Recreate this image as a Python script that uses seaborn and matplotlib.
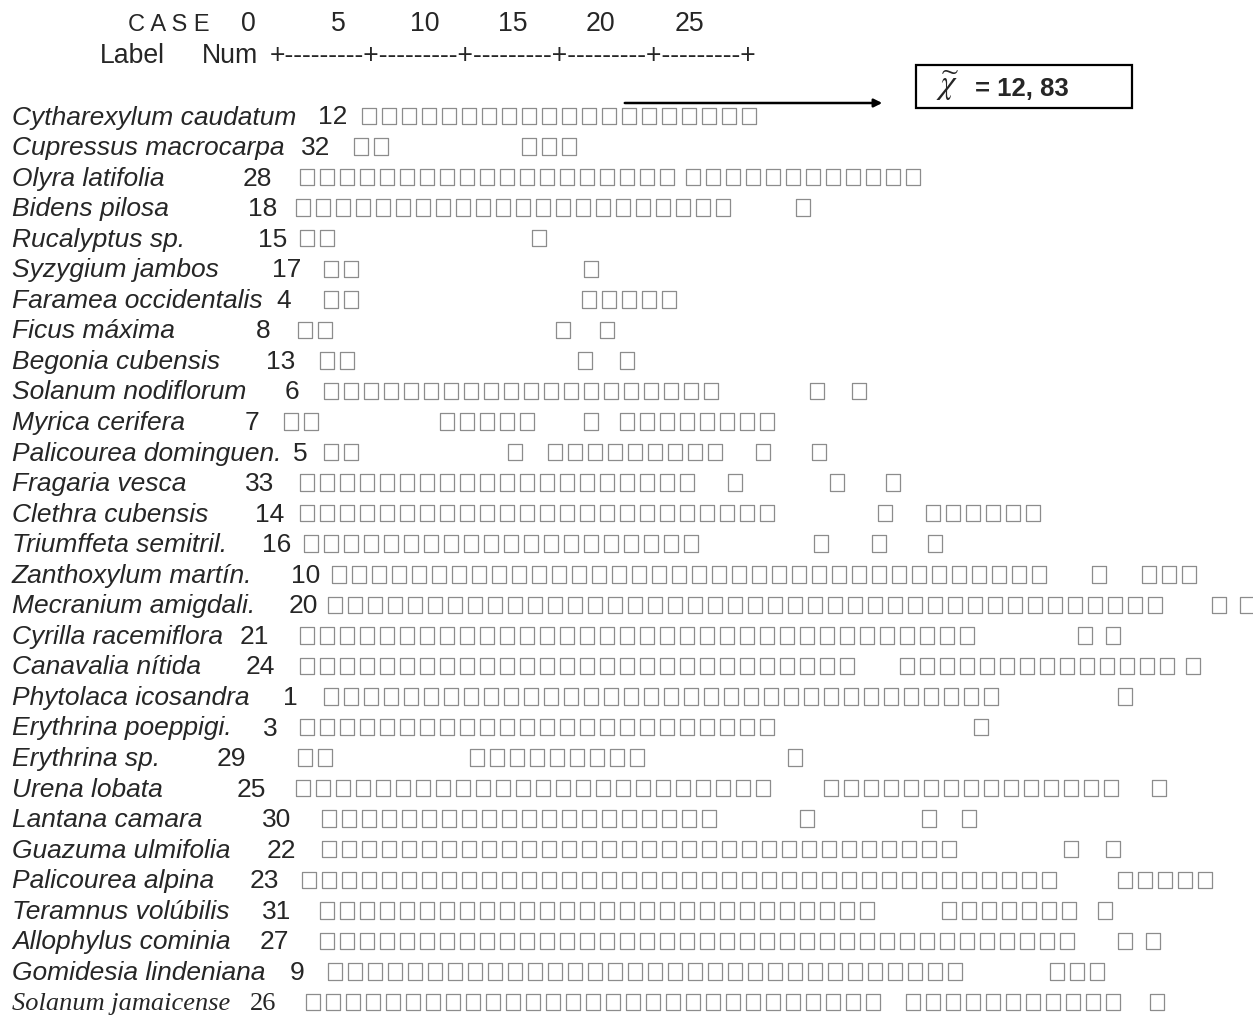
import pandas as pd
import seaborn as sns
import matplotlib.pyplot as plt
from matplotlib.patches import Rectangle

# Dendrogram table (SPSS text output, box glyphs are the branch characters)
species = [
    "Cytharexylum caudatum", "Cupressus macrocarpa", "Olyra latifolia", "Bidens pilosa",
    "Rucalyptus sp.", "Syzygium jambos", "Faramea occidentalis", "Ficus máxima",
    "Begonia cubensis", "Solanum nodiflorum", "Myrica cerifera", "Palicourea dominguen.",
    "Fragaria vesca", "Clethra cubensis", "Triumffeta semitril.", "Zanthoxylum martín.",
    "Mecranium amigdali.", "Cyrilla racemiflora", "Canavalia nítida", "Phytolaca icosandra",
    "Erythrina poeppigi.", "Erythrina sp.", "Urena lobata", "Lantana camara",
    "Guazuma ulmifolia", "Palicourea alpina", "Teramnus volúbilis", "Allophylus cominia",
    "Gomidesia lindeniana", "Solanum jamaicense",
]
case_num = [12, 32, 28, 18, 15, 17, 4, 8, 13, 6, 7, 5, 33, 14, 16, 10,
            20, 21, 24, 1, 3, 29, 25, 30, 22, 23, 31, 27, 9, 26]

# runs of box glyphs per row: (start column, number of boxes)
box_runs = [
    [(18.1, 20)],
    [(17.7, 2), (26.1, 3)],
    [(15.0, 19), (34.3, 12)],
    [(14.8, 22), (39.8, 1)],
    [(15.0, 2), (26.6, 1)],
    [(16.2, 2), (29.2, 1)],
    [(16.2, 2), (29.1, 5)],
    [(14.9, 2), (27.8, 1), (30.0, 1)],
    [(16.0, 2), (28.9, 1), (31.0, 1)],
    [(16.2, 20), (40.5, 1), (42.6, 1)],
    [(14.2, 2), (22.0, 5), (29.2, 1), (31.0, 8)],
    [(16.2, 2), (25.4, 1), (27.4, 9), (37.8, 1), (40.6, 1)],
    [(15.0, 20), (36.4, 1), (41.5, 1), (44.3, 1)],
    [(15.0, 24), (43.9, 1), (46.3, 6)],
    [(15.2, 20), (40.7, 1), (43.6, 1), (46.4, 1)],
    [(16.6, 36), (54.6, 1), (57.1, 3)],
    [(16.4, 42), (60.6, 1), (62.0, 1)],
    [(15.0, 34), (53.9, 1), (55.3, 1)],
    [(15.0, 28), (45.0, 14), (59.3, 1)],
    [(16.2, 34), (55.9, 1)],
    [(15.0, 24), (48.7, 1)],
    [(14.9, 2), (23.5, 9), (39.4, 1)],
    [(14.8, 24), (41.2, 15), (57.6, 1)],
    [(16.1, 20), (40.0, 1), (46.1, 1), (48.1, 1)],
    [(16.1, 32), (53.2, 1), (55.3, 1)],
    [(15.1, 38), (55.9, 5)],
    [(16.0, 28), (47.1, 7), (54.9, 1)],
    [(16.0, 38), (55.9, 1), (57.3, 1)],
    [(16.4, 32), (52.5, 3)],
    [(15.3, 29), (45.3, 11), (57.5, 1)],
]

scale_ticks = ["0", "5", "10", "15", "20", "25"]
median_text = "= 12, 83"

# layout (pixels)
W, H = 1253, 1016
PITCH = 20
BOX_W, BOX_H = 14, 16.5
ROW0, ROW_H = 116, 30.55
num_x = [318, 301, 243, 248, 258, 272, 276, 256, 266, 285, 245, 293, 245, 255, 262,
         291, 289, 240, 246, 283, 263, 217, 237, 262, 267, 250, 262, 260, 290, 250]
tick_x = [248, 338, 425, 513, 600, 690]

sns.set_theme(style="white")
plt.rcParams["font.family"] = ["Liberation Sans", "DejaVu Sans"]
plt.rcParams["mathtext.fontset"] = "stix"

fig = plt.figure(figsize=(W / 100, H / 100), dpi=100)
ax = fig.add_axes([0, 0, 1, 1])

# box glyphs
recs = []
for r, runs in enumerate(box_runs):
    for start, n in runs:
        for k in range(n):
            recs.append({"row": r, "col": start + k})
df = pd.DataFrame(recs)
df["x"] = df["col"] * PITCH + BOX_W / 2
df["y"] = ROW0 + df["row"] * ROW_H

hw = 0.5 * BOX_W / BOX_H
box_marker = [(-hw, -0.5), (hw, -0.5), (hw, 0.5), (-hw, 0.5), (-hw, -0.5)]
size_pt = BOX_H * 72 / 100
sns.scatterplot(data=df, x="x", y="y", marker=box_marker, s=size_pt ** 2,
                color="#8c8c8c", facecolor="none", edgecolor="#8c8c8c",
                linewidth=0.9, legend=False, ax=ax)

# row labels
fs = 19
for i, (name, num) in enumerate(zip(species, case_num)):
    y = ROW0 + i * ROW_H + 8.5
    if i == len(species) - 1:
        fam = ["Liberation Serif"]
    else:
        fam = ["Liberation Sans"]
    ax.text(12, y, name, fontsize=fs, style="italic", family=fam, va="baseline")
    ax.text(num_x[i], y, str(num), fontsize=fs, family=fam, va="baseline")

# header
hfs = 19.2
ax.text(128, 31, "C A S E", fontsize=17, va="baseline")
for t, x in zip(scale_ticks, tick_x):
    ax.text(x, 31, t, fontsize=hfs, va="baseline", ha="center")
ax.text(100, 63, "Label", fontsize=hfs, va="baseline")
ax.text(202, 63, "Num", fontsize=hfs, va="baseline")
ax.text(270, 63, "+---------" * 5 + "+", fontsize=hfs, va="baseline")

# arrow and median box
ax.annotate("", xy=(885, 103), xytext=(622, 103),
            arrowprops=dict(arrowstyle="-|>", color="black", lw=1.8, mutation_scale=12))
ax.add_patch(Rectangle((916, 65), 216, 43, fill=False, edgecolor="black", lw=1.6))
ax.text(947, 86, r"$\widetilde{\chi}$", fontsize=24, ha="center", va="center")
ax.text(975, 96, median_text, fontsize=18.5, fontweight="bold", va="baseline")

ax.set_xlim(0, W)
ax.set_ylim(H, 0)
ax.axis("off")

fig.savefig("out.png", dpi=100)
